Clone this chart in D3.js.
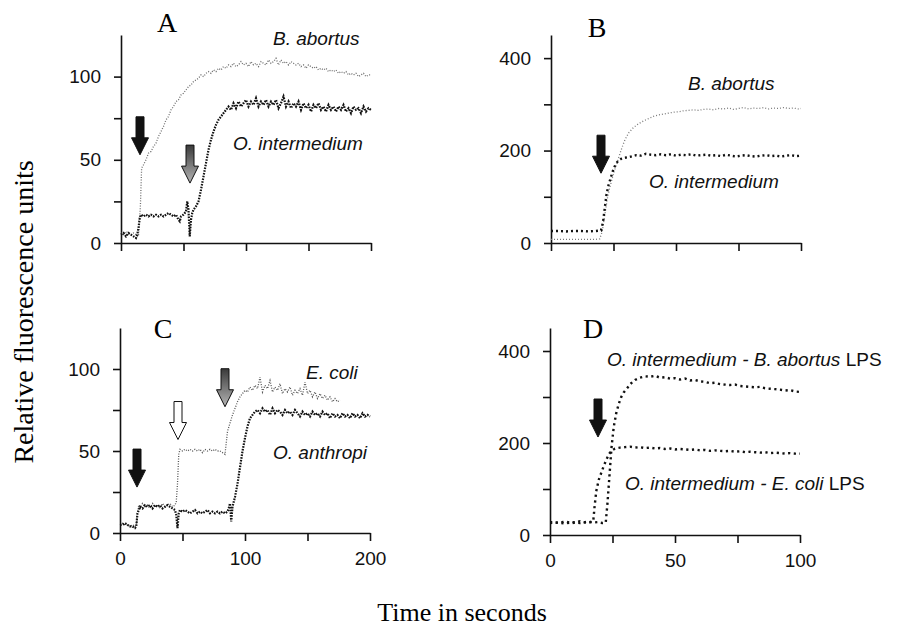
<!DOCTYPE html>
<html>
<head>
<meta charset="utf-8">
<script src="https://cdn.jsdelivr.net/npm/d3@7"></script>
<style>
  body { margin: 0; background: #fff; }
  .tick text { font-family: "Liberation Sans", Arial, sans-serif; font-size: 19px; fill: #111; }
</style>
</head>
<body>
<svg id="chart" width="904" height="627"></svg>
<script>
// ---- datos: [tiempo (s), fluorescencia] ----
const abortusA = [[0,6],[2,5],[4,7],[6,6],[8,5],[10,6],[12,5],[14,4],[15.5,22],[16.5,45],[18,47],[20,50],[22,54],[24,55],[26,58],[28,60],[30,64],[32,67],[34,70],[36,74],[38,76],[40,80],[42,82],[44,85],[46,86],[48,89],[50,90],[52,92],[54,94],[56,95],[58,97],[60,98],[62,99],[64,101],[66,100],[68,102],[70,103],[72,102],[74,104],[76,103],[78,105],[80,104],[82,106],[84,105],[86,107],[88,106],[90,108],[92,106],[94,107],[96,109],[98,107],[100,108],[102,106],[104,109],[106,107],[108,108],[110,106],[112,109],[114,108],[116,107],[118,110],[120,108],[122,109],[124,111],[126,107],[128,110],[130,108],[132,109],[134,107],[136,109],[138,108],[140,107],[142,108],[144,106],[146,107],[148,105],[150,107],[152,106],[154,105],[156,106],[158,104],[160,105],[162,104],[164,105],[166,103],[168,104],[170,103],[172,104],[174,102],[176,103],[178,102],[180,103],[182,101],[184,102],[186,101],[188,102],[190,100],[192,101],[194,102],[196,100],[198,101],[200,101]]
const intermediumA = [[0,5],[2,6],[4,4],[6,6],[8,5],[10,4],[12,3],[13,5],[14,9],[15,15],[16,17],[18,16],[20,17],[22,16],[24,17],[26,16],[28,17],[30,16],[32,17],[34,16],[36,17],[38,18],[40,17],[42,16],[44,17],[46,14],[47,13],[48,16],[50,17],[52,19],[53,25],[54,20],[55,4],[56,14],[57,18],[58,20],[60,22],[62,25],[64,32],[66,40],[68,48],[70,56],[72,62],[74,67],[76,71],[78,74],[80,76],[82,78],[84,80],[86,82],[88,80],[90,84],[92,81],[94,85],[96,82],[98,84],[100,86],[102,82],[104,85],[106,83],[108,87],[110,82],[112,85],[114,83],[116,86],[118,82],[120,85],[122,83],[124,86],[126,81],[128,84],[130,88],[132,82],[134,85],[136,81],[138,84],[140,82],[142,85],[144,80],[146,84],[148,81],[150,83],[152,79],[154,83],[156,81],[158,84],[160,80],[162,82],[164,79],[166,83],[168,80],[170,82],[172,79],[174,82],[176,80],[178,83],[180,79],[182,81],[184,78],[186,82],[188,80],[190,81],[192,78],[194,82],[196,79],[198,81],[200,80]]

const abortusB = [[0,8],[3,8],[6,8],[9,8],[12,8],[15,8],[18,8],[19.5,9],[20.5,25],[21.5,60],[22.5,95],[23.5,120],[24.5,140],[25.5,158],[26.5,175],[27.5,192],[28.5,208],[29.5,222],[31,238],[33,250],[35,258],[37,264],[39,269],[41,274],[43,277],[45,279],[47,281],[49,283],[51,284],[53,286],[55,287],[57,288],[59,287],[61,289],[63,290],[65,288],[67,291],[69,290],[71,292],[73,289],[75,291],[77,293],[79,290],[81,292],[83,291],[85,293],[87,290],[89,292],[91,291],[93,293],[95,291],[97,292],[99,290],[100,291]]
const intermediumB = [[0,26],[3,26],[6,25],[9,26],[12,26],[15,25],[18,26],[20,27],[20.8,45],[21.5,75],[22.2,105],[23,125],[24,143],[25,160],[26,172],[27,178],[28,182],[30,185],[32,187],[34,190],[36,189],[38,193],[40,191],[42,190],[44,192],[46,190],[48,192],[50,189],[52,191],[54,190],[56,192],[58,189],[60,190],[62,191],[64,189],[66,190],[68,188],[70,191],[72,189],[74,187],[76,189],[78,190],[80,188],[82,187],[84,189],[86,190],[88,188],[90,189],[92,187],[94,189],[96,190],[98,188],[100,189]]

const ecoliC = [[0,5],[2,6],[4,5],[6,5],[8,4],[10,5],[12,4],[13,5],[14,12],[15,17],[16,15],[18,18],[20,16],[22,17],[24,15],[26,18],[28,16],[30,17],[32,15],[34,18],[36,16],[38,17],[40,18],[42,16],[44,17],[45,19],[46,30],[47,48],[48,51],[50,50],[52,51],[54,50],[56,51],[58,50],[60,51],[62,50],[64,51],[66,49],[68,51],[70,50],[72,51],[74,50],[76,51],[78,50],[80,50],[82,49],[84,48],[85,55],[86,62],[88,67],[90,72],[92,76],[94,80],[96,83],[98,85],[100,87],[102,86],[104,89],[106,87],[108,90],[110,88],[112,95],[114,86],[116,90],[118,88],[120,93],[122,86],[124,89],[126,87],[128,91],[130,85],[132,88],[134,86],[136,89],[138,84],[140,87],[142,85],[144,88],[146,84],[148,92],[150,85],[152,87],[154,83],[156,86],[158,82],[160,85],[162,82],[164,84],[166,81],[168,83],[170,80],[172,82],[174,80],[176,81]]
const anthropiC = [[0,5],[2,5],[4,6],[6,5],[8,4],[10,4],[12,3],[13,4],[14,12],[15,14],[16,16],[18,15],[20,17],[22,16],[24,17],[26,15],[28,17],[30,16],[32,17],[34,15],[36,16],[38,17],[40,16],[42,15],[44,14],[45,11],[46,3],[47,12],[48,14],[50,13],[52,14],[54,13],[56,12],[58,13],[60,14],[62,12],[64,13],[66,12],[68,13],[70,14],[72,12],[74,13],[76,12],[78,13],[80,12],[82,13],[84,12],[86,13],[87,15],[88,18],[89,7],[90,16],[92,22],[94,30],[96,40],[98,50],[100,58],[102,65],[104,70],[106,72],[108,74],[110,75],[112,73],[114,76],[116,74],[118,75],[120,72],[122,76],[124,73],[126,75],[128,74],[130,72],[132,75],[134,73],[136,74],[138,72],[140,75],[142,73],[144,71],[146,74],[148,72],[150,73],[152,71],[154,74],[156,72],[158,73],[160,71],[162,74],[164,72],[166,73],[168,70],[170,73],[172,71],[174,72],[176,70],[178,73],[180,71],[182,72],[184,70],[186,73],[188,71],[190,72],[192,70],[194,73],[196,71],[198,72],[200,71]]

const abortusLpsD = [[0,26],[3,27],[6,25],[9,28],[12,26],[15,29],[17,27],[19,28],[21,26],[22.3,27],[23,70],[23.8,130],[24.6,190],[25.5,235],[26.5,265],[27.5,285],[28.5,300],[29.5,310],[31,320],[32.5,330],[34,337],[36,342],[38,345],[40,344],[42,346],[44,342],[46,343],[48,340],[50,341],[52,338],[54,340],[56,336],[58,337],[60,334],[62,333],[64,330],[66,331],[68,328],[70,327],[72,326],[74,327],[76,324],[78,323],[80,322],[82,321],[84,322],[86,319],[88,318],[90,317],[92,316],[94,314],[96,315],[98,312],[100,311]]
const ecoliLpsD = [[0,28],[3,27],[6,29],[9,26],[12,30],[14,27],[16,28],[17.3,30],[17.8,60],[18.5,95],[19.5,120],[20.5,135],[21.5,150],[22.5,163],[23.5,175],[24.5,183],[26,188],[28,190],[30,191],[32,192],[34,190],[36,191],[38,189],[40,190],[42,188],[44,189],[46,187],[48,188],[50,186],[52,187],[54,186],[56,185],[58,186],[60,184],[62,185],[64,183],[66,184],[68,183],[70,182],[72,183],[74,181],[76,182],[78,180],[80,181],[82,180],[84,179],[86,180],[88,178],[90,179],[92,178],[94,177],[96,178],[98,177],[100,177]]

// ticks
const timeTicks200 = [0, 50, 100, 150, 200]
const timeLabels200 = [0, 100, 200]
const timeTicks100 = [0, 25, 50, 75, 100]
const timeLabels100 = [0, 50, 100]
const rfuTicks125 = [0, 25, 50, 75, 100]
const rfuLabels125 = [0, 50, 100]
const rfuTicks450 = [0, 100, 200, 300, 400]
const rfuLabels450 = [0, 200, 400]

// flechas: momento de la adicion [tiempo, valor en la punta]
const arrowsA = [[15.2, 53, "black"], [55.2, 36, "gray"]]
const arrowsB = [[20, 151, "black"]]
const arrowsC = [[13.6, 28, "black"], [46.4, 57, "white"], [84, 77, "gray"]]
const arrowsD = [[19.2, 213, "black"]]

const svg = d3.select("#chart")

const defs = svg.append("defs")
const grad = defs.append("linearGradient").attr("id", "grayGrad")
  .attr("x1", 0).attr("y1", 0).attr("x2", 0).attr("y2", 1)
grad.append("stop").attr("offset", "0%").attr("stop-color", "#3a3a3a")
grad.append("stop").attr("offset", "100%").attr("stop-color", "#b5b5b5")

const panels = [
  { letter: "A", lx: 167, ly: 32, xr: [121, 371], yr: [243, 35], xd: [0, 200], yd: [0, 125],
    xt: timeTicks200, xl: [], yt: rfuTicks125, yl: rfuLabels125, arrows: arrowsA,
    series: [
      { data: abortusA, color: "#6e6e6e", w: 1.3, dash: "1 1.6" },
      { data: intermediumA, color: "#111", w: 2.2, dash: "1.6 1.2" }
    ],
    labels: [
      { x: 273, y: 45, parts: [["B. abortus", true]] },
      { x: 233, y: 150, parts: [["O. intermedium", true]] }
    ] },
  { letter: "B", lx: 597, ly: 37, xr: [551, 801], yr: [243, 35], xd: [0, 100], yd: [0, 450],
    xt: timeTicks100, xl: [], yt: rfuTicks450, yl: rfuLabels450, arrows: arrowsB,
    series: [
      { data: abortusB, color: "#7a7a7a", w: 1.3, dash: "1 2" },
      { data: intermediumB, color: "#111", w: 2.4, dash: "2 3" }
    ],
    labels: [
      { x: 688, y: 90, parts: [["B. abortus", true]] },
      { x: 649, y: 188, parts: [["O. intermedium", true]] }
    ] },
  { letter: "C", lx: 163, ly: 338, xr: [120, 370], yr: [533, 328], xd: [0, 200], yd: [0, 125],
    xt: timeTicks200, xl: timeLabels200, yt: rfuTicks125, yl: rfuLabels125, arrows: arrowsC,
    series: [
      { data: ecoliC, color: "#555", w: 1.3, dash: "1 1.5" },
      { data: anthropiC, color: "#111", w: 2.2, dash: "1.6 1.2" }
    ],
    labels: [
      { x: 306, y: 379, parts: [["E. coli", true]] },
      { x: 273, y: 459, parts: [["O. anthropi", true]] }
    ] },
  { letter: "D", lx: 593, ly: 338, xr: [550, 800], yr: [535, 328], xd: [0, 100], yd: [0, 450],
    xt: timeTicks100, xl: timeLabels100, yt: rfuTicks450, yl: rfuLabels450, arrows: arrowsD,
    series: [
      { data: abortusLpsD, color: "#111", w: 2.4, dash: "2.2 3.5" },
      { data: ecoliLpsD, color: "#111", w: 2.4, dash: "2.2 3.5" }
    ],
    labels: [
      { x: 607, y: 366, parts: [["O. intermedium - B. abortus", true], [" LPS", false]] },
      { x: 625, y: 490, parts: [["O. intermedium - E. coli", true], [" LPS", false]] }
    ] }
]

const arrowShape = "M-4,-38 L4,-38 L4,-17 L8.5,-17 L0,0 L-8.5,-17 L-4,-17 Z"

panels.forEach(function(p) {
  const x = d3.scaleLinear().domain(p.xd).range(p.xr)
  const y = d3.scaleLinear().domain(p.yd).range(p.yr)
  const g = svg.append("g")

  // ejes
  const xAxis = d3.axisBottom(x).tickValues(p.xt).tickSize(8).tickSizeOuter(0).tickPadding(11)
    .tickFormat(d => p.xl.includes(d) ? d : "")
  g.append("g").attr("transform", "translate(0," + p.yr[0] + ")").call(xAxis)

  const yAxis = d3.axisLeft(y).tickValues(p.yt).tickSize(7).tickSizeOuter(0).tickPadding(13)
    .tickFormat(d => p.yl.includes(d) ? d : "")
  g.append("g").attr("transform", "translate(" + p.xr[0] + ",0)").call(yAxis)

  g.selectAll(".domain, .tick line").attr("stroke", "#111").attr("stroke-width", 1.6)

  // curvas punteadas
  const line = d3.line().x(d => x(d[0])).y(d => y(d[1]))
  p.series.forEach(function(s) {
    g.append("path")
      .attr("d", line(s.data))
      .attr("fill", "none")
      .attr("stroke", s.color)
      .attr("stroke-width", s.w)
      .attr("stroke-dasharray", s.dash)
  })

  // flechas
  g.selectAll(".arrow")
    .data(p.arrows)
    .join("path")
    .attr("class", "arrow")
    .attr("d", arrowShape)
    .attr("transform", d => "translate(" + x(d[0]) + "," + y(d[1]) + ")")
    .attr("fill", d => d[2] == "gray" ? "url(#grayGrad)" : d[2] == "white" ? "#fff" : "#111")
    .attr("stroke", "#111")
    .attr("stroke-width", 1)

  // letra del panel
  g.append("text")
    .attr("x", p.lx).attr("y", p.ly)
    .attr("text-anchor", "middle")
    .style("font-family", "'Liberation Serif', 'Times New Roman', serif")
    .style("font-size", "28px")
    .text(p.letter)

  // nombres de las especies
  p.labels.forEach(function(l) {
    const t = g.append("text").attr("x", l.x).attr("y", l.y)
      .style("font-family", "'Liberation Sans', Arial, sans-serif")
      .style("font-size", "19px")
      .attr("fill", "#111")
    l.parts.forEach(function(part) {
      t.append("tspan").style("font-style", part[1] ? "italic" : "normal").text(part[0])
    })
  })
})

// titulos de los ejes
svg.append("text")
  .attr("transform", "translate(33,312) rotate(-90)")
  .attr("text-anchor", "middle")
  .style("font-family", "'Liberation Serif', 'Times New Roman', serif")
  .style("font-size", "28px")
  .text("Relative fluorescence units")

svg.append("text")
  .attr("x", 462).attr("y", 621)
  .attr("text-anchor", "middle")
  .style("font-family", "'Liberation Serif', 'Times New Roman', serif")
  .style("font-size", "26px")
  .text("Time in seconds")
</script>
</body>
</html>
